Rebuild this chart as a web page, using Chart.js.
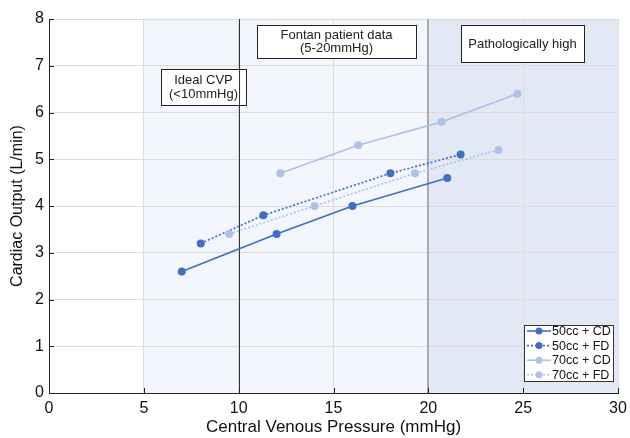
<!DOCTYPE html>
<html>
<head>
<meta charset="utf-8">
<script src="https://cdn.jsdelivr.net/npm/chart.js@4"></script>
<style>
  html, body { margin: 0; padding: 0; background: #fff; }
  #wrap { width: 630px; height: 438px; }
</style>
</head>
<body>
<div id="wrap"><canvas id="chart" width="630" height="438"></canvas></div>
<script>
// ---- data ----
const seriesNames = ['50cc + CD', '50cc + FD', '70cc + CD', '70cc + FD'];
const cvp50CD = [7, 12, 16, 21];
const co50CD = [2.6, 3.4, 4.0, 4.6];
const cvp50FD = [8, 11.3, 18, 21.7];
const co50FD = [3.2, 3.8, 4.7, 5.1];
const cvp70CD = [12.2, 16.3, 20.7, 24.7];
const co70CD = [4.7, 5.3, 5.8, 6.4];
const cvp70FD = [9.5, 14, 19.3, 23.7];
const co70FD = [3.4, 4.0, 4.7, 5.2];

const xTicks = [0, 5, 10, 15, 20, 25, 30];
const yTicks = [0, 1, 2, 3, 4, 5, 6, 7, 8];

// shaded ranges and reference lines (in mmHg)
const fontanRange = [5, 20];
const highRange = [20, 30];

const DARK = '#3f6fc6';
const LIGHT = '#adc2e8';
const FONT = 'Arial, "Liberation Sans", sans-serif';

function pts(xs, ys) {
    return xs.map((x, i) => ({ x: x, y: ys[i] }));
}

const styles = [
    { color: DARK, dash: [] },
    { color: DARK, dash: [2, 2] },
    { color: LIGHT, dash: [] },
    { color: LIGHT, dash: [2, 2] }
];
const allData = [pts(cvp50CD, co50CD), pts(cvp50FD, co50FD), pts(cvp70CD, co70CD), pts(cvp70FD, co70FD)];

// ---- background bands, reference lines, boxes, ticks, legend ----
const decor = {
    id: 'decor',
    beforeDraw(chart) {
        const { ctx, chartArea: a, scales: { x } } = chart;
        ctx.save();
        ctx.fillStyle = '#fff';
        ctx.fillRect(0, 0, chart.width, chart.height);
        ctx.fillStyle = '#f3f6fc';
        ctx.fillRect(x.getPixelForValue(fontanRange[0]), a.top, x.getPixelForValue(fontanRange[1]) - x.getPixelForValue(fontanRange[0]), a.bottom - a.top);
        ctx.fillStyle = '#e3e8f5';
        ctx.fillRect(x.getPixelForValue(highRange[0]), a.top, x.getPixelForValue(highRange[1]) - x.getPixelForValue(highRange[0]), a.bottom - a.top);
        ctx.restore();
    },
    beforeDatasetsDraw(chart) {
        const { ctx, chartArea: a, scales: { x } } = chart;
        ctx.save();
        // text boxes
        textBox(ctx, 161, 69, 85, 36, ['Ideal CVP', '(<10mmHg)'], 14);
        textBox(ctx, 257, 25, 159, 33, ['Fontan patient data', '(5-20mmHg)'], 13);
        textBox(ctx, 461, 25, 123, 37, ['Pathologically high'], 14);
        // reference lines
        let px = Math.round(x.getPixelForValue(10)) + 0.5;
        ctx.strokeStyle = '#333';
        ctx.lineWidth = 1;
        ctx.beginPath(); ctx.moveTo(px, a.top); ctx.lineTo(px, a.bottom); ctx.stroke();
        px = Math.round(x.getPixelForValue(20));
        ctx.strokeStyle = '#a8aab0';
        ctx.lineWidth = 2;
        ctx.beginPath(); ctx.moveTo(px, a.top); ctx.lineTo(px, a.bottom); ctx.stroke();
        ctx.restore();
    },
    afterDatasetsDraw(chart) {
        const { ctx, chartArea: a, scales: { x, y } } = chart;
        ctx.save();
        // inward tick marks
        ctx.strokeStyle = '#222';
        ctx.lineWidth = 1;
        ctx.beginPath();
        yTicks.forEach(v => {
            const py = Math.round(y.getPixelForValue(v)) + 0.5;
            ctx.moveTo(a.left, py); ctx.lineTo(a.left + 5, py);
        });
        xTicks.forEach(v => {
            const px = Math.round(x.getPixelForValue(v)) + 0.5;
            ctx.moveTo(px, a.bottom); ctx.lineTo(px, a.bottom - 5);
        });
        ctx.stroke();

        // legend
        const lx = 524, ly = 325, lw = 89, lh = 56;
        ctx.fillStyle = '#fff';
        ctx.fillRect(lx, ly, lw, lh);
        ctx.strokeStyle = '#333';
        ctx.strokeRect(lx + 0.5, ly + 0.5, lw, lh);
        ctx.font = '12.5px ' + FONT;
        ctx.textBaseline = 'middle';
        ctx.textAlign = 'left';
        seriesNames.forEach((name, i) => {
            const ry = ly + 6 + i * 14.6;
            const s = styles[i];
            ctx.strokeStyle = s.color;
            ctx.lineWidth = 1.6;
            ctx.setLineDash(s.dash);
            ctx.beginPath(); ctx.moveTo(lx + 3, ry); ctx.lineTo(lx + 27, ry); ctx.stroke();
            ctx.setLineDash([]);
            ctx.fillStyle = s.color;
            ctx.beginPath(); ctx.arc(lx + 15, ry, 3.5, 0, Math.PI * 2); ctx.fill();
            ctx.fillStyle = '#111';
            ctx.fillText(name, lx + 28, ry + 0.5);
        });
        ctx.restore();
    }
};

function textBox(ctx, bx, by, bw, bh, lines, lineGap) {
    ctx.fillStyle = '#fff';
    ctx.fillRect(bx, by, bw, bh);
    ctx.strokeStyle = '#222';
    ctx.lineWidth = 1;
    ctx.strokeRect(bx + 0.5, by + 0.5, bw, bh);
    ctx.fillStyle = '#222';
    ctx.font = '13px ' + FONT;
    ctx.textAlign = 'center';
    ctx.textBaseline = 'middle';
    const cy = by + bh / 2 - (lines.length - 1) * lineGap / 2;
    lines.forEach((t, i) => ctx.fillText(t, bx + bw / 2, cy + i * lineGap + 0.5));
}

new Chart(document.getElementById('chart'), {
    type: 'scatter',
    data: {
        datasets: seriesNames.map((name, i) => ({
            label: name,
            data: allData[i],
            showLine: true,
            borderColor: styles[i].color,
            backgroundColor: styles[i].color,
            borderDash: styles[i].dash,
            borderWidth: 1.7,
            pointRadius: 4,
            pointHoverRadius: 4,
            pointBorderWidth: 0,
            order: 4 - i
        }))
    },
    options: {
        responsive: false,
        animation: false,
        layout: { padding: { top: 19, right: 12, left: 0, bottom: 0 } },
        plugins: { legend: { display: false }, tooltip: { enabled: false } },
        scales: {
            x: {
                type: 'linear',
                min: 0,
                max: 30,
                afterBuildTicks: s => { s.ticks = xTicks.map(v => ({ value: v })); },
                afterFit: s => { s.height = 45; s.paddingLeft = 0; s.paddingRight = 0; },
                grid: { color: '#dcdcdc', lineWidth: 1, drawTicks: false },
                border: { color: '#222', width: 1 },
                ticks: { padding: 6, color: '#111', font: { size: 16, family: FONT } },
                title: { display: true, text: 'Central Venous Pressure (mmHg)', color: '#111', font: { size: 17, family: FONT }, padding: { top: 0, bottom: 0 } }
            },
            y: {
                type: 'linear',
                min: 0,
                max: 8,
                afterBuildTicks: s => { s.ticks = yTicks.map(v => ({ value: v })); },
                afterFit: s => { s.width = 49; s.paddingTop = 0; s.paddingBottom = 0; },
                grid: { color: '#dcdcdc', lineWidth: 1, drawTicks: false },
                border: { color: '#222', width: 1 },
                ticks: { padding: 5, color: '#111', font: { size: 16, family: FONT } },
                title: { display: true, text: 'Cardiac Output (L/min)', color: '#111', font: { size: 16, family: FONT }, padding: { top: 8, bottom: 0 } }
            }
        }
    },
    plugins: [decor]
});
</script>
</body>
</html>
